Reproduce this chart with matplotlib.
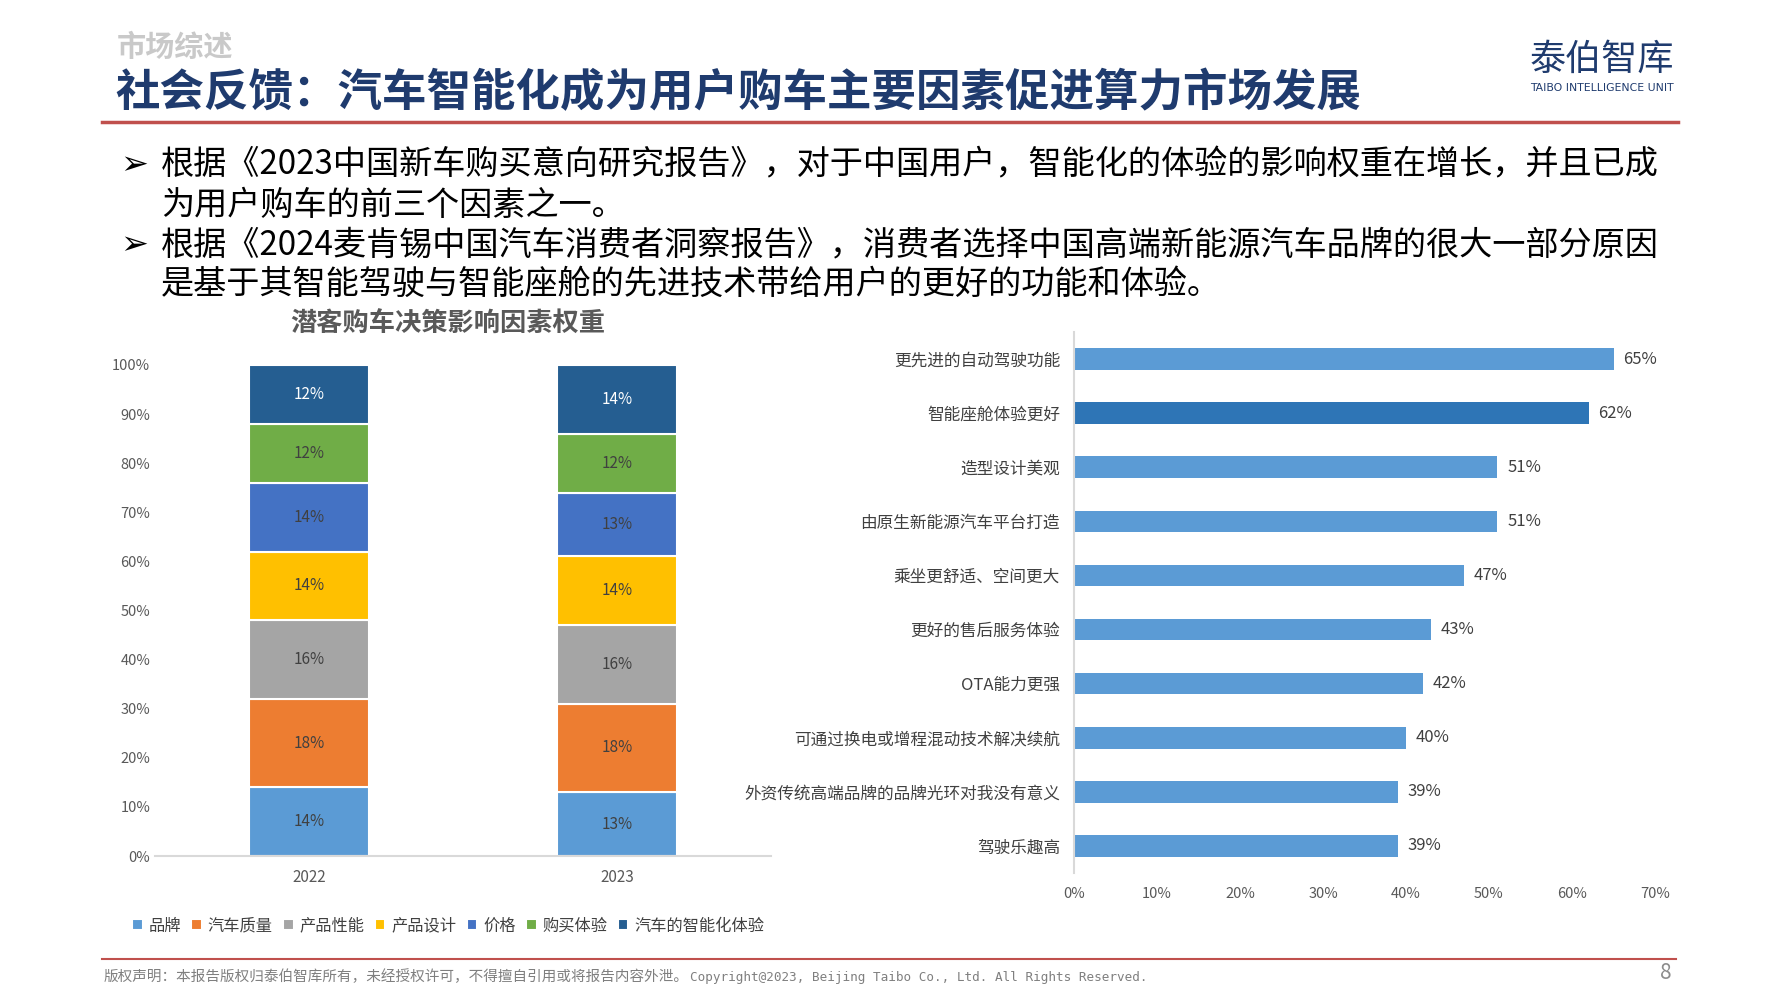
import matplotlib
matplotlib.use("Agg")
import matplotlib.pyplot as plt
import numpy as np

plt.rcParams['font.family'] = ['Noto Sans CJK SC', 'DejaVu Sans']

# ---------- 数据
years = ['2022', '2023']
factors = ['品牌', '汽车质量', '产品性能', '产品设计', '价格', '购买体验', '汽车的智能化体验']
w2022 = [14, 18, 16, 14, 14, 12, 12]
w2023 = [13, 18, 16, 14, 13, 12, 14]
factor_colors = ['#5B9BD5', '#ED7D31', '#A5A5A5', '#FFC000', '#4472C4', '#70AD47', '#255E91']

reasons = ['更先进的自动驾驶功能', '智能座舱体验更好', '造型设计美观', '由原生新能源汽车平台打造',
           '乘坐更舒适、空间更大', '更好的售后服务体验', 'OTA能力更强',
           '可通过换电或增程混动技术解决续航', '外资传统高端品牌的品牌光环对我没有意义', '驾驶乐趣高']
reason_pct = [65, 62, 51, 51, 47, 43, 42, 40, 39, 39]

W, H = 1778, 1000
fig = plt.figure(figsize=(W / 100, H / 100), dpi=100)

def fx(x):
    return x / W

def fy(y):
    return 1 - y / H

# ---------- 页眉
fig.text(fx(117), fy(47), '市场综述', fontsize=21, color='#C9C9C9', fontweight='bold', va='center')
fig.text(fx(115), fy(93), '社会反馈：汽车智能化成为用户购车主要因素促进算力市场发展',
         fontsize=32, color='#1F3B6E', fontweight='bold', va='center')
fig.add_artist(plt.Line2D([fx(102), fx(1678)], [fy(122), fy(122)], color='#C0504D', lw=2.5))
fig.text(fx(1602), fy(60), '泰伯智库', fontsize=26, color='#1F3B6E', ha='center', va='center')
fig.text(fx(1602), fy(88), 'TAIBO INTELLIGENCE UNIT', fontsize=7.8, color='#1F3B6E',
         ha='center', va='center', family=['DejaVu Sans'])

# ---------- 要点
lines = [
    (True, '根据《2023中国新车购买意向研究报告》，对于中国用户，智能化的体验的影响权重在增长，并且已成'),
    (False, '为用户购车的前三个因素之一。'),
    (True, '根据《2024麦肯锡中国汽车消费者洞察报告》，消费者选择中国高端新能源汽车品牌的很大一部分原因'),
    (False, '是基于其智能驾驶与智能座舱的先进技术带给用户的更好的功能和体验。'),
]
ys = [165, 205, 245, 284]
for (bullet, txt), y in zip(lines, ys):
    if bullet:
        fig.text(fx(120), fy(y), '➢', fontsize=24, color='black', va='center',
                 fontweight='bold', family=['DejaVu Sans'])
    fig.text(fx(161), fy(y), txt, fontsize=23.9, color='black', va='center')

# ---------- 左图：堆叠柱
ax1 = fig.add_axes([fx(155), fy(856), fx(771 - 155), (856 - 365) / H])
x = np.arange(len(years))
bottom = np.zeros(len(years))
data = np.array([w2022, w2023]).T
for i, name in enumerate(factors):
    vals = data[i]
    ax1.bar(x, vals, 0.39, bottom=bottom, color=factor_colors[i], edgecolor='white',
            linewidth=1.5, label=name)
    for xi, v, b in zip(x, vals, bottom):
        tc = 'white' if i == len(factors) - 1 else '#404040'
        ax1.text(xi, b + v / 2, f'{v}%', ha='center', va='center', fontsize=11, color=tc)
    bottom += vals
ax1.set_xlim(-0.5, 1.5)
ax1.set_ylim(0, 100)
ax1.set_yticks(np.arange(0, 101, 10))
ax1.set_yticklabels([f'{v}%' for v in range(0, 101, 10)])
ax1.set_xticks(x)
ax1.set_xticklabels(years)
ax1.tick_params(length=0, labelsize=10.5, labelcolor='#595959')
ax1.tick_params(axis='x', pad=9, labelsize=11)
for s in ['top', 'right', 'left']:
    ax1.spines[s].set_visible(False)
ax1.spines['bottom'].set_color('#D9D9D9')
ax1.spines['bottom'].set_linewidth(1.5)

fig.text(fx(448), fy(324), '潜客购车决策影响因素权重', fontsize=18.9, color='#595959',
         fontweight='bold', ha='center', va='center')

handles, labels = ax1.get_legend_handles_labels()
fig.legend(handles, labels, loc='center', bbox_to_anchor=(fx(448), fy(926)), ncol=7,
           frameon=False, fontsize=11.7, handlelength=0.65, handleheight=0.65,
           handletextpad=0.35, columnspacing=0.65, labelcolor='#404040')

# ---------- 右图：横向条形
ax2 = fig.add_axes([fx(1074), fy(873), fx(1655 - 1074), (873 - 332) / H])
yy = np.arange(len(reasons))
bar_colors = ['#5B9BD5'] * len(reasons)
bar_colors[1] = '#2E75B6'
ax2.barh(yy, reason_pct, 0.4, color=bar_colors)
for yi, v in zip(yy, reason_pct):
    ax2.text(v + 1.2, yi, f'{v}%', va='center', ha='left', fontsize=12, color='#404040')
ax2.set_ylim(len(reasons) - 0.5, -0.5)
ax2.set_xlim(0, 70)
ax2.set_yticks(yy)
ax2.set_yticklabels(reasons)
ax2.set_xticks(np.arange(0, 71, 10))
ax2.set_xticklabels([f'{v}%' for v in range(0, 71, 10)])
ax2.tick_params(length=0, labelcolor='#404040')
ax2.tick_params(axis='y', labelsize=12, pad=10)
ax2.tick_params(axis='x', labelsize=10.5, labelcolor='#595959', pad=10)
for s in ['top', 'right', 'bottom']:
    ax2.spines[s].set_visible(False)
ax2.spines['left'].set_color('#D9D9D9')
ax2.spines['left'].set_linewidth(1.5)

# ---------- 页脚
fig.add_artist(plt.Line2D([fx(102), fx(1676)], [fy(959), fy(959)], color='#C0504D', lw=1.5))
fig.text(fx(104), fy(977), '版权声明：本报告版权归泰伯智库所有，未经授权许可，不得擅自引用或将报告内容外泄。',
         fontsize=10.5, color='#7F7F7F', va='center')
fig.text(fx(690), fy(977), 'Copyright@2023, Beijing Taibo Co., Ltd. All Rights Reserved.',
         fontsize=9.1, color='#7F7F7F', va='center', family=['DejaVu Sans Mono'])
fig.text(fx(1672), fy(973), '8', fontsize=15, color='#8C8C8C', ha='right', va='center')

fig.savefig('out.png', dpi=100)
